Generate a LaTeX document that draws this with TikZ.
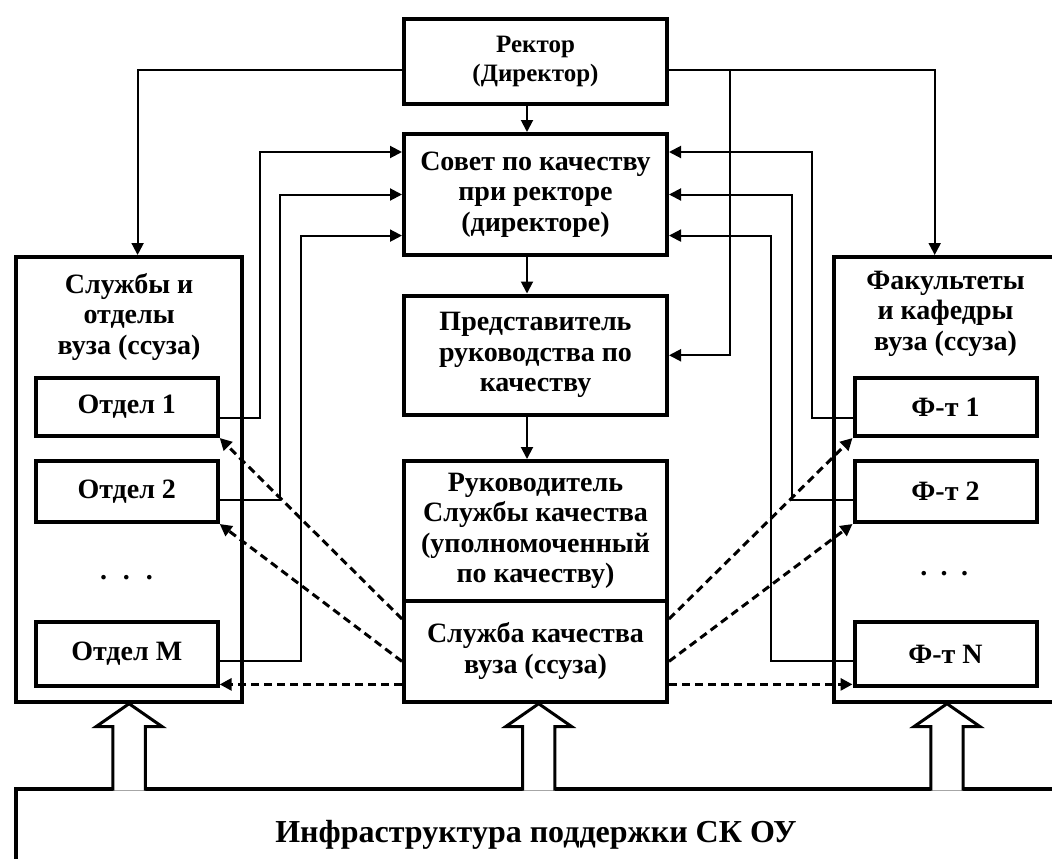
\documentclass[tikz,border=0pt]{standalone}
\usepackage{fontspec}
\setmainfont{Liberation Serif}
\usetikzlibrary{arrows.meta}
\newcommand\fntMain{\bfseries\fontsize{28}{30.5}\selectfont}
\newcommand\fntRector{\bfseries\fontsize{25}{29}\selectfont}
\newcommand\fntInfra{\bfseries\fontsize{32}{36}\selectfont}
\begin{document}
\begin{tikzpicture}[x=1pt,y=-1pt,
  box/.style={draw, line width=4pt, inner sep=0pt, align=center, font=\fntMain},
  title/.style={inner sep=0pt, align=center, font=\fntMain},
  conn/.style={line width=2pt, -{Triangle[length=12pt,width=12pt]}},
  dconn/.style={line width=3pt, dash pattern=on 8pt off 5pt, -{Triangle[length=12pt,width=12pt]}},
  hollowup/.pic={\draw[line width=3pt, fill=white, line join=miter]
      (-16.2,86.8) -- (-16.2,22.9) -- (-33,22.9) -- (0,0) -- (33,22.9) -- (16.2,22.9) -- (16.2,86.8);}
]
\useasboundingbox (0,0) rectangle (1052,859);

% central column
\node[box, font=\fntRector, minimum width=263pt, minimum height=85pt] (rector) at (535.5,61.5) {Ректор\\(Директор)};
\node[box, minimum width=263pt, minimum height=121pt] (council) at (535.5,194.5) {Совет по качеству\\при ректоре\\(директоре)};
\node[box, minimum width=263pt, minimum height=119.5pt] (rep) at (535.5,355.25) {Представитель\\руководства по\\качеству};
\node[box, minimum width=263pt, minimum height=139.6pt] (rukov) at (535.5,530.8) {Руководитель\\Службы качества\\(уполномоченный\\по качеству)};
\node[box, minimum width=263pt, minimum height=101.1pt] (sk) at (535.5,651.15) {Служба качества\\вуза (ссуза)};

% left panel
\node[box, minimum width=225.8pt, minimum height=444.7pt] (lp) at (129.1,479.35) {};
\node[title] (lpt) at (129.1,316.5) {Службы и\\отделы\\вуза (ссуза)};
\node[box, minimum width=181.9pt, minimum height=57.7pt] (o1) at (126.75,407.15) {Отдел 1};
\node[box, minimum width=181.9pt, minimum height=61pt] (o2) at (126.75,491.5) {Отдел 2};
\node[title, anchor=base] (ldots) at (126.5,579) {.\hspace{16pt}.\hspace{16pt}.};
\node[box, minimum width=181.9pt, minimum height=64pt] (oM) at (126.75,654) {Отдел М};

% right panel
\node[box, minimum width=226pt, minimum height=444.7pt] (rp) at (947,479.35) {};
\node[title] (rpt) at (945.5,313.5) {Факультеты\\и кафедры\\вуза (ссуза)};
\node[box, minimum width=182pt, minimum height=57.7pt] (f1) at (945.5,407.15) {Ф-т 1};
\node[box, minimum width=182pt, minimum height=61pt] (f2) at (945.5,491.5) {Ф-т 2};
\node[title, anchor=base] (rdots) at (944.2,575.5) {.\hspace{13.3pt}.\hspace{13.3pt}.};
\node[box, minimum width=182pt, minimum height=64pt] (fN) at (945.5,654) {Ф-т N};

% bottom infrastructure box
\node[box, font=\fntInfra, minimum width=1040pt, minimum height=92pt] (infra) at (536,834.5) {Инфраструктура поддержки СК ОУ};

% hollow arrows
\pic at (lp.south) {hollowup};
\pic at ([xshift=3.2pt]sk.south) {hollowup};
\pic at (rp.south) {hollowup};

% rector connections
\coordinate (j) at (730.4,70);
\draw[conn] ([yshift=-8.5pt]rector.west) -| ([xshift=8.5pt]lp.north);
\draw[conn] ([yshift=-8.5pt]rector.east) -| ([xshift=-12.3pt]rp.north);
\draw[conn] (j) |- (rep.east);
\draw[conn] ([xshift=-8.5pt]rector.south) -- ([xshift=-8.5pt]council.north);
\draw[conn] ([xshift=-8.5pt]council.south) -- ([xshift=-8.5pt]rep.north);
\draw[conn] ([xshift=-8.5pt]rep.south) -- ([xshift=-8.5pt]rukov.north);

% departments to council
\coordinate (L1) at (259.6,152);
\coordinate (L2) at (280,194.5);
\coordinate (L3) at (301,235.6);
\coordinate (R1) at (811.8,152);
\coordinate (R2) at (791.5,194.5);
\coordinate (R3) at (771,235.6);
\draw[conn] ([yshift=-10.45pt]o1.east) -| (L1) -- ([yshift=42.5pt]council.west);
\draw[conn] ([yshift=-8.9pt]o2.east) -| (L2) -- (council.west);
\draw[conn] ([yshift=-7.4pt]oM.east) -| (L3) -- ([yshift=-41.1pt]council.west);
\draw[conn] ([yshift=-10.45pt]f1.west) -| (R1) -- ([yshift=42.5pt]council.east);
\draw[conn] ([yshift=-8.9pt]f2.west) -| (R2) -- (council.east);
\draw[conn] ([yshift=-7.4pt]fN.west) -| (R3) -- ([yshift=-41.1pt]council.east);

% quality service to departments (dashed)
\draw[dconn] ([yshift=32.15pt]sk.west) -- (o1.south east);
\draw[dconn] ([yshift=-10.25pt]sk.west) -- (o2.south east);
\draw[dconn] ([yshift=-33.25pt]sk.west) -- ([yshift=-30.4pt]oM.east);
\draw[dconn] ([yshift=32.15pt]sk.east) -- (f1.south west);
\draw[dconn] ([yshift=-10.25pt]sk.east) -- (f2.south west);
\draw[dconn] ([yshift=-33.25pt]sk.east) -- ([yshift=-30.4pt]fN.west);
\end{tikzpicture}
\end{document}
